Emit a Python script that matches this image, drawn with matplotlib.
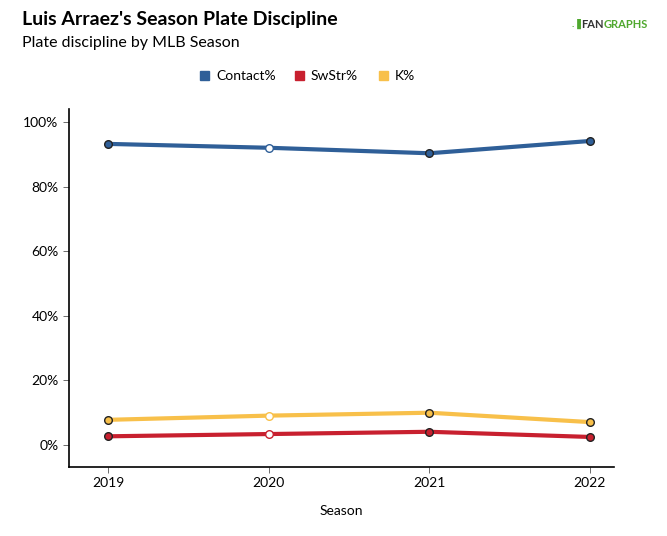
import matplotlib
matplotlib.use("Agg")
import matplotlib.pyplot as plt
from matplotlib.patches import Rectangle
from matplotlib.transforms import offset_copy

plt.rcParams['font.family'] = ['Lato', 'DejaVu Sans']

seasons = [2019, 2020, 2021, 2022]
contact = [93.2, 92.0, 90.3, 94.1]
swstr = [2.7, 3.4, 4.1, 2.5]
kpct = [7.8, 9.1, 10.0, 7.1]
series_names = ["Contact%", "SwStr%", "K%"]
colors = ["#2f5f98", "#c8202f", "#f8c04a"]
yticks = [0, 20, 40, 60, 80, 100]

fig = plt.figure(figsize=(6.67, 5.36), dpi=100)
ax = fig.add_axes([69/667, 1-467/536, (614-69)/667, (467-109)/536])

for vals, c in zip([contact, swstr, kpct], colors):
    ax.plot(seasons, vals, color=c, lw=3.0, zorder=2, solid_capstyle='round')
    for s, v in zip(seasons, vals):
        fc = 'white' if s == 2020 else c
        ec = c if s == 2020 else '#222222'
        ax.plot([s], [v], marker='o', ms=5.5, mfc=fc, mec=ec, mew=1.0, zorder=3)

ax.set_xlim(2018.757, 2022.15)
ax.set_ylim(-6.8, 104)
ax.set_xticks(seasons)
ax.set_xticklabels([str(s) for s in seasons], fontsize=10)
ax.set_yticks(yticks)
ax.set_yticklabels([f"{t}%" for t in yticks], fontsize=10)
for s in ['top', 'right']:
    ax.spines[s].set_visible(False)
for s in ['left', 'bottom']:
    ax.spines[s].set_linewidth(1.2)
    ax.spines[s].set_color('black')
ax.tick_params(axis='both', length=4, width=0.6, color='#555555')
ax.set_xlabel("Season", fontsize=10, labelpad=11)

fig.text(22/667, 1-20/536, "Luis Arraez's Season Plate Discipline", fontsize=14,
         fontweight='bold', va='center', ha='left')
fig.text(22/667, 1-43/536, "Plate discipline by MLB Season", fontsize=11.5,
         va='center', ha='left')

# legend
lx = [200, 295, 379]
for x, name, c in zip(lx, series_names, colors):
    fig.patches.append(Rectangle((x/667, 1-80/536), 9/667, 9/536, color=c,
                                 transform=fig.transFigure, figure=fig))
    fig.text((x+16)/667, 1-75.5/536, name, fontsize=10, va='center', ha='left')

# logo
fig.text(572/667, 1-24/536, ".\u2590", fontsize=7, fontweight='bold', color='#4fa82e',
         va='center', ha='left')
t1 = fig.text(581/667, 1-24/536, "FAN", fontsize=8, fontweight='bold', color='#333333',
              va='center', ha='left')
fig.canvas.draw()
bb = t1.get_window_extent()
fig.text(bb.x1/667, 1-24/536, "GRAPHS", fontsize=8, fontweight='bold', color='#4fa82e',
         va='center', ha='left')

fig.savefig("out.png", dpi=100)
